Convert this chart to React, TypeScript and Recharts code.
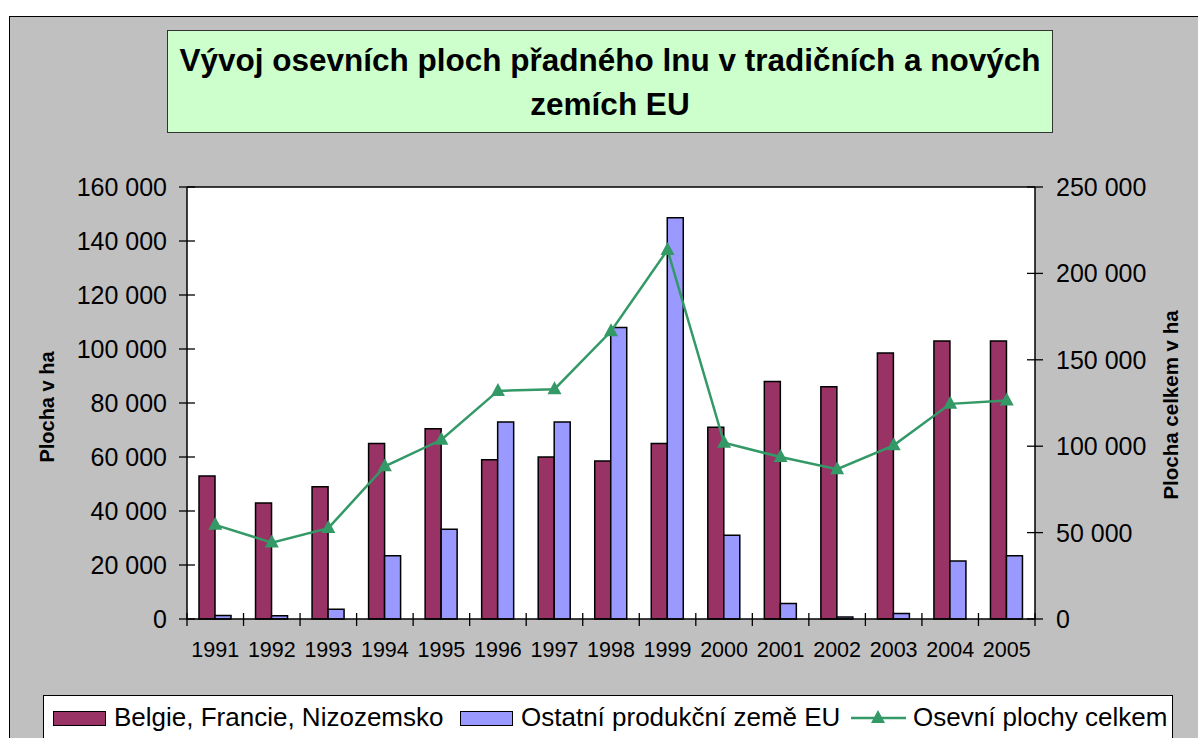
import { ComposedChart, Bar, Line, XAxis, YAxis, CartesianGrid, ReferenceLine } from 'recharts';

const years = ['1991', '1992', '1993', '1994', '1995', '1996', '1997', '1998', '1999', '2000', '2001', '2002', '2003', '2004', '2005'];
const belgieFrancieNizozemsko = [53000, 43000, 49000, 65000, 70500, 59000, 60000, 58500, 65000, 71000, 88000, 86000, 98500, 103000, 103000];
const ostatniZeme = [1300, 1200, 3600, 23400, 33200, 73000, 73000, 108000, 148600, 31000, 5700, 700, 2000, 21500, 23400];
const osevniCelkem = [54500, 44200, 52600, 88400, 103700, 132000, 133000, 166500, 213600, 102000, 93700, 86700, 100500, 124500, 126400];

const leftTicks = [0, 20000, 40000, 60000, 80000, 100000, 120000, 140000, 160000];
const rightTicks = [0, 50000, 100000, 150000, 200000, 250000];

const data = years.map((year, i) => ({
    year,
    bfn: belgieFrancieNizozemsko[i],
    ost: ostatniZeme[i],
    total: osevniCelkem[i],
}));

const MAROON = '#993366';
const BLUE = '#9999FF';
const GREEN = '#339966';
const FONT = '"Liberation Sans", Arial, sans-serif';

const PLOT_LEFT = 187;
const PLOT_RIGHT = 1035;
const BAND = (PLOT_RIGHT - PLOT_LEFT) / years.length;

const fmt = (v: number) => String(v).replace(/\B(?=(\d{3})+(?!\d))/g, ' ');

const LeftTick = ({ x, y, payload }: any) => (
    <g>
        <line x1={x - 8} x2={x + 8} y1={y} y2={y} stroke="#000" strokeWidth={1.3} />
        <text x={x - 20} y={y} dy="0.36em" textAnchor="end" fontSize={25} fontFamily={FONT} fill="#000">
            {fmt(payload.value)}
        </text>
    </g>
);

const RightTick = ({ x, y, payload }: any) => (
    <g>
        <line x1={x - 8} x2={x + 8} y1={y} y2={y} stroke="#000" strokeWidth={1.3} />
        <text x={x + 21} y={y} dy="0.36em" textAnchor="start" fontSize={25} fontFamily={FONT} fill="#000">
            {fmt(payload.value)}
        </text>
    </g>
);

const YearTick = ({ x, y, payload, index, visibleTicksCount }: any) => (
    <g>
        <line x1={x - BAND / 2} x2={x - BAND / 2} y1={y - 6} y2={y + 7} stroke="#000" strokeWidth={1.3} />
        {index === visibleTicksCount - 1 && (
            <line x1={x + BAND / 2} x2={x + BAND / 2} y1={y - 6} y2={y + 7} stroke="#000" strokeWidth={1.3} />
        )}
        <text x={x} y={y + 38} textAnchor="middle" fontSize={21.5} fontFamily={FONT} fill="#000">
            {payload.value}
        </text>
    </g>
);

const Triangle = ({ cx, cy }: any) => {
    if (cx == null || cy == null) return null;
    return <polygon points={`${cx},${cy - 8} ${cx - 7},${cy + 5} ${cx + 7},${cy + 5}`} fill={GREEN} />;
};

export default function App() {
    return (
        <div style={{ position: 'relative', width: 1198, height: 738, overflow: 'hidden', background: '#fff', fontFamily: FONT }}>
            <style>{`body{margin:0}`}</style>
            <div
                style={{
                    position: 'absolute',
                    left: 9,
                    top: 16,
                    width: 1300,
                    height: 800,
                    background: '#C0C0C0',
                    borderTop: '1.5px solid #000',
                    borderLeft: '1.5px solid #000',
                }}
            />
            <div
                style={{
                    position: 'absolute',
                    left: 167,
                    top: 30,
                    width: 886,
                    height: 103,
                    background: '#CCFFCC',
                    border: '1px solid #333',
                    boxSizing: 'border-box',
                    display: 'flex',
                    alignItems: 'center',
                    justifyContent: 'center',
                    textAlign: 'center',
                    fontWeight: 'bold',
                    fontSize: 31.5,
                    lineHeight: '44px',
                    color: '#000',
                }}
            >
                Vývoj osevních ploch přadného lnu v tradičních a nových
                <br />
                zemích EU
            </div>

            <div style={{ position: 'absolute', left: 0, top: 0 }}>
                <ComposedChart
                    width={1198}
                    height={738}
                    data={data}
                    margin={{ top: 187, left: 87, right: 63, bottom: 79 }}
                    barGap={0}
                >
                    <CartesianGrid fill="#ffffff" stroke="none" horizontal={false} vertical={false} />
                    <XAxis
                        dataKey="year"
                        height={40}
                        axisLine={{ stroke: '#000', strokeWidth: 1.5 }}
                        tickLine={false}
                        tickSize={0}
                        tickMargin={0}
                        tick={<YearTick />}
                        interval={0}
                    />
                    <YAxis
                        yAxisId="left"
                        width={100}
                        domain={[0, 160000]}
                        ticks={leftTicks}
                        axisLine={{ stroke: '#000', strokeWidth: 1.5 }}
                        tickLine={false}
                        tickSize={0}
                        tickMargin={0}
                        tick={<LeftTick />}
                        interval={0}
                    />
                    <YAxis
                        yAxisId="right"
                        orientation="right"
                        width={100}
                        domain={[0, 250000]}
                        ticks={rightTicks}
                        axisLine={{ stroke: '#000', strokeWidth: 1.5 }}
                        tickLine={false}
                        tickSize={0}
                        tickMargin={0}
                        tick={<RightTick />}
                        interval={0}
                    />
                    <ReferenceLine yAxisId="left" y={160000} stroke="#000" strokeWidth={1.5} />
                    <Bar yAxisId="left" dataKey="bfn" fill={MAROON} stroke="#000" strokeWidth={1.5} barSize={16} isAnimationActive={false} />
                    <Bar yAxisId="left" dataKey="ost" fill={BLUE} stroke="#000" strokeWidth={1.5} barSize={16} isAnimationActive={false} />
                    <Line
                        yAxisId="right"
                        dataKey="total"
                        type="linear"
                        stroke={GREEN}
                        strokeWidth={2.5}
                        dot={<Triangle />}
                        activeDot={false}
                        isAnimationActive={false}
                    />
                </ComposedChart>
            </div>

            <div
                style={{
                    position: 'absolute',
                    left: 47,
                    top: 407,
                    transform: 'translate(-50%, -50%) rotate(-90deg)',
                    fontWeight: 'bold',
                    fontSize: 20,
                    whiteSpace: 'nowrap',
                }}
            >
                Plocha v ha
            </div>
            <div
                style={{
                    position: 'absolute',
                    left: 1171,
                    top: 405,
                    transform: 'translate(-50%, -50%) rotate(-90deg)',
                    fontWeight: 'bold',
                    fontSize: 20.5,
                    whiteSpace: 'nowrap',
                }}
            >
                Plocha celkem v ha
            </div>

            <div
                style={{
                    position: 'absolute',
                    left: 43,
                    top: 695,
                    width: 1130,
                    height: 70,
                    background: '#fff',
                    border: '1px solid #000',
                    boxSizing: 'border-box',
                    fontSize: 26,
                    color: '#000',
                }}
            >
                <div style={{ position: 'absolute', left: 9, top: 15, width: 53, height: 15, background: MAROON, border: '1.5px solid #000', boxSizing: 'border-box' }} />
                <div style={{ position: 'absolute', left: 70, top: 6, whiteSpace: 'nowrap' }}>Belgie, Francie, Nizozemsko</div>
                <div style={{ position: 'absolute', left: 416, top: 15, width: 53, height: 15, background: BLUE, border: '1.5px solid #000', boxSizing: 'border-box' }} />
                <div style={{ position: 'absolute', left: 477, top: 6, whiteSpace: 'nowrap' }}>Ostatní produkční země EU</div>
                <svg style={{ position: 'absolute', left: 806, top: 8 }} width={58} height={26}>
                    <line x1={1} x2={56} y1={14} y2={14} stroke={GREEN} strokeWidth={2.5} />
                    <polygon points="28,6 21,19 35,19" fill={GREEN} />
                </svg>
                <div style={{ position: 'absolute', left: 869, top: 6, whiteSpace: 'nowrap' }}>Osevní plochy celkem</div>
            </div>
        </div>
    );
}
